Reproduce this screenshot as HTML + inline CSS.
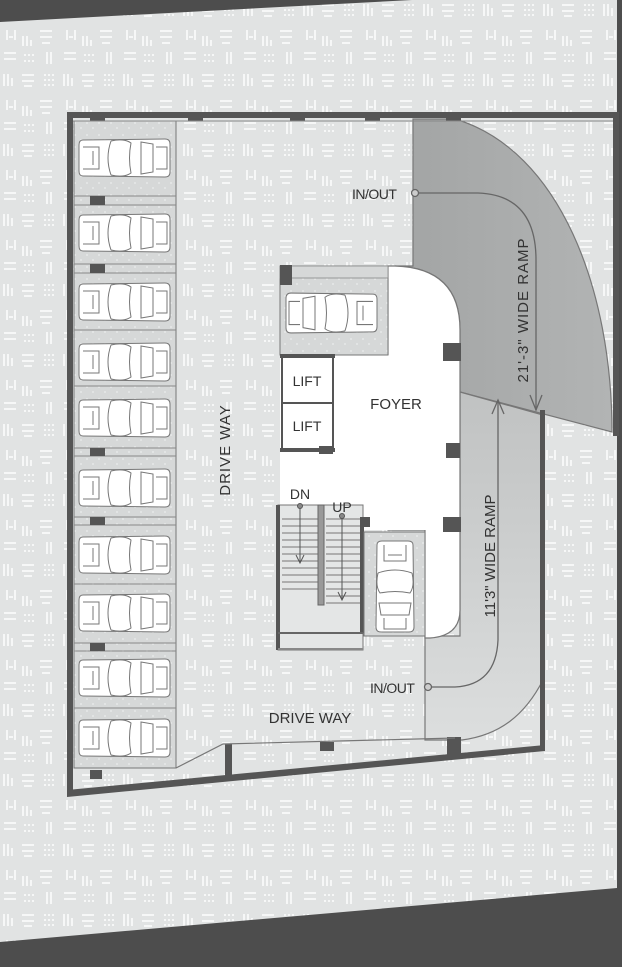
<!DOCTYPE html>
<html><head><meta charset="utf-8"><style>
html,body{margin:0;padding:0;width:622px;height:967px;overflow:hidden;background:#4d4d4d}
svg{display:block}
text{font-family:"Liberation Sans","DejaVu Sans",sans-serif;fill:#333}
</style></head><body>
<svg width="622" height="967" viewBox="0 0 622 967" xmlns="http://www.w3.org/2000/svg">
<defs>
<pattern id="pt" width="60" height="70" patternUnits="userSpaceOnUse">
<rect width="60" height="70" fill="#e1e3e3"/>
<g fill="#f6f7f7">
<rect x="3" y="4" width="2" height="12"/><rect x="7" y="4" width="2" height="12"/><rect x="11" y="8" width="2" height="8"/>
<rect x="22" y="4" width="12" height="2"/><rect x="22" y="10" width="12" height="2"/><rect x="24" y="15" width="8" height="2"/>
<rect x="44" y="4" width="2" height="2"/><rect x="48" y="4" width="2" height="2"/><rect x="52" y="4" width="2" height="2"/>
<rect x="44" y="9" width="2" height="2"/><rect x="48" y="9" width="2" height="2"/><rect x="52" y="9" width="2" height="2"/>
<rect x="44" y="14" width="2" height="2"/><rect x="48" y="14" width="2" height="2"/><rect x="52" y="14" width="2" height="2"/>
<rect x="6" y="30" width="2" height="10"/><rect x="14" y="30" width="2" height="10"/><rect x="9" y="36" width="4" height="2"/>
<rect x="22" y="36" width="2" height="10"/><rect x="26" y="36" width="2" height="10"/><rect x="30" y="40" width="2" height="6"/>
<rect x="40" y="30" width="12" height="2"/><rect x="40" y="36" width="12" height="2"/><rect x="42" y="42" width="8" height="2"/>
<rect x="4" y="52" width="12" height="2"/><rect x="4" y="58" width="12" height="2"/>
<rect x="24" y="54" width="2" height="2"/><rect x="28" y="54" width="2" height="2"/><rect x="32" y="54" width="2" height="2"/>
<rect x="24" y="60" width="2" height="2"/><rect x="28" y="60" width="2" height="2"/><rect x="32" y="60" width="2" height="2"/>
<rect x="46" y="52" width="2" height="12"/><rect x="50" y="52" width="2" height="12"/>
</g>
</pattern>
<pattern id="st" width="12" height="12" patternUnits="userSpaceOnUse">
<rect width="12" height="12" fill="#d6d8d8"/>
<rect x="2" y="2" width="2" height="2" fill="#e2e4e4"/><rect x="8" y="7" width="2" height="2" fill="#e2e4e4"/>
</pattern>
<linearGradient id="rg1" x1="0" y1="0" x2="1" y2="0"><stop offset="0" stop-color="#a2a4a4"/><stop offset="1" stop-color="#b2b4b4"/></linearGradient>
<linearGradient id="rg2" x1="0" y1="0" x2="0" y2="1"><stop offset="0" stop-color="#c0c2c2"/><stop offset="1" stop-color="#dcdede"/></linearGradient>
<g id="car" fill="#fff" stroke="#777" stroke-width="1">
<path d="M4,2 L86,1 Q91,1 91,6 L91,34 Q91,39 86,39 L4,38 Q0,38 0,33 L0,7 Q0,2 4,2Z"/>
<path d="M32,3 Q26,20 32,37" fill="none"/>
<path d="M32,3 Q45,0 52,5 Q49,20 52,35 Q45,40 32,37" fill="none"/>
<path d="M62,4 L74,6 L74,34 L62,36 Z" fill="none"/>
<path d="M77,9 L88,9 L88,31 L77,31" fill="none"/>
<path d="M4,9 L20,9 L20,31 L4,31" fill="none"/>
<path d="M14,13 L14,27" fill="none"/>
</g>
</defs>

<polygon points="0,22 412,0 617,0 617,888 0,942" fill="url(#pt)"/>

<path d="M413,119 L455,119 C560,150 612,290 612,432 L460,392 L460,330 Q460,268 395,266 L413,266 Z" fill="url(#rg1)" stroke="#777" stroke-width="1.2"/>
<path d="M460,392 L543,415 L543,680 C525,715 500,735 462,740 L425,740 L425,636 L460,636 Z" fill="url(#rg2)" stroke="#777" stroke-width="1.2"/>

<rect x="74" y="121" width="102" height="647" fill="url(#st)" stroke="#777" stroke-width="1"/>
<g stroke="#888" stroke-width="1">
<line x1="74" y1="196" x2="176" y2="196"/><line x1="74" y1="205" x2="176" y2="205"/>
<line x1="74" y1="264" x2="176" y2="264"/><line x1="74" y1="273" x2="176" y2="273"/>
<line x1="74" y1="330" x2="176" y2="330"/>
<line x1="74" y1="386" x2="176" y2="386"/>
<line x1="74" y1="448" x2="176" y2="448"/><line x1="74" y1="456" x2="176" y2="456"/>
<line x1="74" y1="517" x2="176" y2="517"/><line x1="74" y1="525" x2="176" y2="525"/>
<line x1="74" y1="584" x2="176" y2="584"/>
<line x1="74" y1="643" x2="176" y2="643"/><line x1="74" y1="651" x2="176" y2="651"/>
<line x1="74" y1="708" x2="176" y2="708"/>
</g>
<g fill="#555">
<rect x="90" y="196" width="15" height="9"/><rect x="90" y="264" width="15" height="9"/>
<rect x="90" y="448" width="15" height="8"/><rect x="90" y="517" width="15" height="8"/>
<rect x="90" y="643" width="15" height="8"/><rect x="90" y="770" width="12" height="9"/>
</g>
<use href="#car" x="79" y="138"/><use href="#car" x="79" y="213"/><use href="#car" x="79" y="282"/>
<use href="#car" x="79" y="342"/><use href="#car" x="79" y="398"/><use href="#car" x="79" y="468"/>
<use href="#car" x="79" y="535"/><use href="#car" x="79" y="593"/><use href="#car" x="79" y="658"/>
<use href="#car" x="79" y="718"/>

<path d="M388,266 L395,266 Q460,268 460,330 L460,610 Q460,636 430,638 L425,638 L425,530 L388,530 Z" fill="#fff" stroke="#777" stroke-width="1.2"/>
<rect x="280" y="355" width="150" height="175" fill="#fff"/>
<rect x="280" y="266" width="108" height="89" fill="url(#st)" stroke="#777"/>
<rect x="280" y="266" width="108" height="12" fill="#d6d8d8" stroke="#888" stroke-width=".8"/>
<rect x="280" y="265" width="12" height="20" fill="#555"/>
<g transform="translate(286,292) scale(1,1.05)"><use href="#car" transform="translate(91,40) rotate(180)"/></g>
<rect x="282" y="356" width="51" height="47" fill="#fff" stroke="#555" stroke-width="2"/>
<rect x="282" y="403" width="51" height="47" fill="#fff" stroke="#555" stroke-width="2"/>
<rect x="280" y="354" width="55" height="4" fill="#555"/>
<rect x="280" y="448" width="55" height="4" fill="#555"/>
<rect x="319" y="446" width="14" height="8" fill="#555"/>
<text x="307" y="386" font-size="14" text-anchor="middle">LIFT</text>
<text x="307" y="431" font-size="14" text-anchor="middle">LIFT</text>
<text x="396" y="409" font-size="15" text-anchor="middle">FOYER</text>
<g fill="#555">
<rect x="443" y="343" width="18" height="18"/><rect x="446" y="443" width="14" height="15"/><rect x="443" y="517" width="18" height="15"/>
<rect x="360" y="517" width="10" height="10"/><rect x="320" y="636" width="10" height="14"/>
</g>
<rect x="278" y="505" width="85" height="145" fill="#e4e6e6" stroke="#777"/>
<g stroke="#777" stroke-width="1">
<line x1="282" y1="519" x2="320" y2="519"/><line x1="282" y1="526" x2="320" y2="526"/><line x1="282" y1="533" x2="320" y2="533"/>
<line x1="282" y1="540" x2="320" y2="540"/><line x1="282" y1="547" x2="320" y2="547"/><line x1="282" y1="554" x2="320" y2="554"/>
<line x1="282" y1="561" x2="320" y2="561"/><line x1="282" y1="568" x2="320" y2="568"/><line x1="282" y1="575" x2="320" y2="575"/>
<line x1="282" y1="582" x2="320" y2="582"/><line x1="282" y1="589" x2="320" y2="589"/>
<line x1="326" y1="519" x2="361" y2="519"/><line x1="326" y1="526" x2="361" y2="526"/><line x1="326" y1="533" x2="361" y2="533"/>
<line x1="326" y1="540" x2="361" y2="540"/><line x1="326" y1="547" x2="361" y2="547"/><line x1="326" y1="554" x2="361" y2="554"/>
<line x1="326" y1="561" x2="361" y2="561"/><line x1="326" y1="568" x2="361" y2="568"/><line x1="326" y1="575" x2="361" y2="575"/>
<line x1="326" y1="582" x2="361" y2="582"/><line x1="326" y1="589" x2="361" y2="589"/><line x1="326" y1="596" x2="361" y2="596"/>
<line x1="326" y1="603" x2="361" y2="603"/>
</g>
<rect x="318" y="505" width="6" height="100" fill="#999" stroke="#666"/>
<rect x="276" y="505" width="4" height="145" fill="#555"/>
<rect x="360" y="517" width="4" height="116" fill="#555"/>
<rect x="278" y="632" width="85" height="2" fill="#666"/>
<rect x="278" y="648" width="85" height="2" fill="#888"/>
<g stroke="#555" stroke-width="1" fill="#888">
<line x1="300" y1="506" x2="300" y2="563"/><circle cx="300" cy="506" r="2.5"/>
<line x1="342" y1="516" x2="342" y2="600"/><circle cx="342" cy="516" r="2.5"/>
<path d="M296,555 L300,563 L304,555" fill="none"/><path d="M338,592 L342,600 L346,592" fill="none"/>
</g>
<text x="300" y="499" font-size="14" text-anchor="middle">DN</text>
<text x="342" y="512" font-size="14" text-anchor="middle">UP</text>
<rect x="364" y="532" width="61" height="104" fill="url(#st)" stroke="#777"/>
<use href="#car" transform="translate(415,541) rotate(90)"/>

<g fill="#555">
<rect x="67" y="112" width="6" height="684"/>
<rect x="67" y="112" width="552" height="6"/>
<rect x="613" y="112" width="6" height="324"/>
<rect x="540" y="410" width="5" height="340"/>
<polygon points="67,790 545,745 545,751 67,797"/>
<rect x="225" y="744" width="7" height="32"/>
<rect x="447" y="737" width="14" height="18"/>
<rect x="320" y="742" width="14" height="9"/>
<rect x="90" y="115" width="15" height="6"/><rect x="188" y="115" width="15" height="6"/><rect x="290" y="115" width="15" height="6"/>
<rect x="365" y="115" width="15" height="6"/><rect x="446" y="115" width="15" height="6"/>
</g>
<line x1="73" y1="121" x2="613" y2="121" stroke="#888"/>
<polyline points="176,768 223,744 455,738" fill="none" stroke="#777" stroke-width="1.2"/>

<g fill="none" stroke="#666" stroke-width="1.3">
<path d="M418,193 L478,193 Q536,195 536,260 L536,410"/>
<path d="M530,395 L536,410 L542,395"/>
<path d="M498,400 L498,640 Q496,685 455,687 L431,687"/>
<path d="M492,414 L498,400 L504,414"/>
<circle cx="415" cy="193" r="3.5" fill="#ccc"/>
<circle cx="428" cy="687" r="3.5" fill="#ccc"/>
</g>
<text x="352" y="199" font-size="14" letter-spacing="-0.5">IN/OUT</text>
<text x="370" y="693" font-size="14" letter-spacing="-0.5">IN/OUT</text>
<text transform="translate(528,310) rotate(-90)" font-size="15" text-anchor="middle" letter-spacing="1">21'-3"  WIDE  RAMP</text>
<text transform="translate(495,556) rotate(-90)" font-size="15" text-anchor="middle">11'3" WIDE RAMP</text>
<text transform="translate(230,450) rotate(-90)" font-size="15" text-anchor="middle" letter-spacing="1">DRIVE  WAY</text>
<text x="310" y="723" font-size="15" text-anchor="middle">DRIVE  WAY</text>
</svg>
</body></html>
